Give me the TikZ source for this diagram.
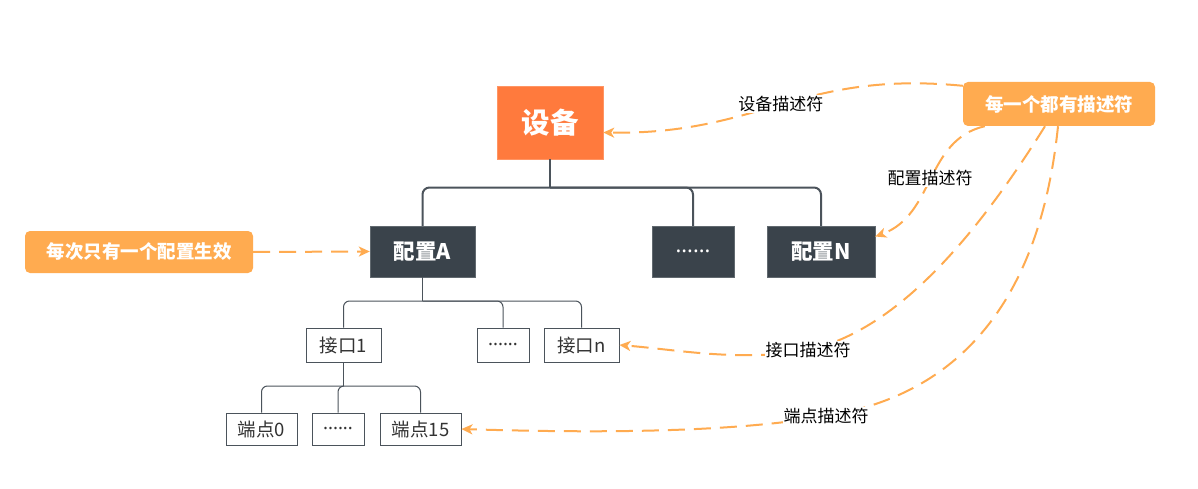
\documentclass[tikz,border=0pt]{standalone}
\usepackage{fontspec}
\setmainfont{Noto Sans CJK SC}
\newfontfamily\dotfont{Noto Sans}
\usetikzlibrary{arrows.meta}
\definecolor{devorange}{HTML}{FF7A3D}
\definecolor{callout}{HTML}{FFAB50}
\definecolor{darkbox}{HTML}{3A434B}
\definecolor{treeline}{HTML}{4B535B}
\definecolor{txtgray}{HTML}{333333}
\newcommand{\sixdots}{{\dotfont......}}
\tikzset{
  devbox/.style={draw=devorange!80!white, fill=devorange, text=white, font=\fontsize{28.5}{31}\selectfont\bfseries, minimum width=106pt, minimum height=73pt, inner sep=0pt},
  cfgbox/.style={draw=darkbox!80!white, fill=darkbox, text=white, font=\fontsize{21.5}{24}\selectfont\bfseries, minimum height=51pt, inner sep=0pt},
  subbox/.style={draw=treeline, line width=0.9pt, fill=white, text=txtgray, font=\fontsize{18.5}{20}\selectfont, inner sep=0pt},
  callbox/.style={fill=callout, text=white, rounded corners=5pt, font=\fontsize{18.5}{21}\selectfont\bfseries, inner sep=0pt},
  tree/.style={draw=treeline, line width=2pt, rounded corners=7pt},
  treethin/.style={draw=treeline, line width=1pt, rounded corners=6pt},
  descline/.style={draw=callout, line width=2pt, dash pattern=on 17pt off 9pt, -{Stealth[length=11pt,width=10pt,inset=3pt]}},
  lbl/.style={fill=white, text=black, font=\fontsize{17}{19}\selectfont, inner sep=1pt}
}
\begin{document}
\begin{tikzpicture}[x=1pt,y=-1pt]
\useasboundingbox (0,0) rectangle (1198,489);
% nodes
\node[devbox] (dev) at (550,122.5) {设备};
\node[cfgbox, minimum width=105pt] (cfgA) at (422.5,251.5) {配置A};
\node[cfgbox, minimum width=82pt] (cfgdots) at (693,251.5) {\sixdots};
\node[cfgbox, minimum width=108pt] (cfgN) at (821,251.5) {配置N};
\node[callbox, minimum width=192pt, minimum height=44pt] (desc) at (1059,104) {每一个都有描述符};
\node[callbox, minimum width=228pt, minimum height=42pt] (once) at (139,252) {每次只有一个配置生效};
\node[subbox, minimum width=75pt, minimum height=34pt] (if1) at (343.5,345) {接口1};
\node[subbox, minimum width=52pt, minimum height=34pt] (ifdots) at (503,345) {\sixdots};
\node[subbox, minimum width=75pt, minimum height=34pt] (ifn) at (581.5,345) {接口n};
\node[subbox, minimum width=71pt, minimum height=32pt] (ep0) at (261.5,429) {端点0};
\node[subbox, minimum width=52pt, minimum height=32pt] (epdots) at (338,429) {\sixdots};
\node[subbox, minimum width=81pt, minimum height=32pt] (ep15) at (420.5,429) {端点15};
% tree level 1
\coordinate (b1) at (550,187.5);
\draw[tree] (dev.south) -- (b1);
\draw[tree] (cfgA.north) |- (b1) -| (cfgN.north);
\draw[tree] (b1) -| (cfgdots.north);
% tree level 2
\coordinate (b2) at (422.5,301);
\draw[treethin] (cfgA.south) -- (b2);
\draw[treethin] (if1.north) |- (b2) -| (ifn.north);
\draw[treethin] (b2) -| (ifdots.north);
% tree level 3
\coordinate (b3) at (343.5,386);
\draw[treethin] (if1.south) -- (b3);
\draw[treethin] (ep0.north) |- (b3) -| (ep15.north);
\draw[treethin] (b3) -| (epdots.north);
% descriptor arrows
\draw[descline] ([yshift=-4pt]desc.north west) .. controls (800,70) and (760,135) .. ([yshift=-10pt]dev.east)
  node[lbl, pos=0.5] {设备描述符};
\draw[descline] ([xshift=22pt]desc.south west) .. controls (925,140) and (935,215) .. ([yshift=15pt]cfgN.east)
  node[lbl, pos=0.5] {配置描述符};
\draw[descline] ([xshift=-14pt]desc.south) .. controls (980,230) and (900,330) .. (808,350)
  node[lbl] {接口描述符} .. controls (740,362) and (680,350) .. (ifn.east);
\draw[descline] ([xshift=-1pt]desc.south) .. controls (1040,300) and (960,395) .. (826,416)
  node[lbl] {端点描述符} .. controls (720,435) and (560,432) .. (ep15.east);
\draw[descline] (once.east) -- (cfgA.west);
\end{tikzpicture}
\end{document}
